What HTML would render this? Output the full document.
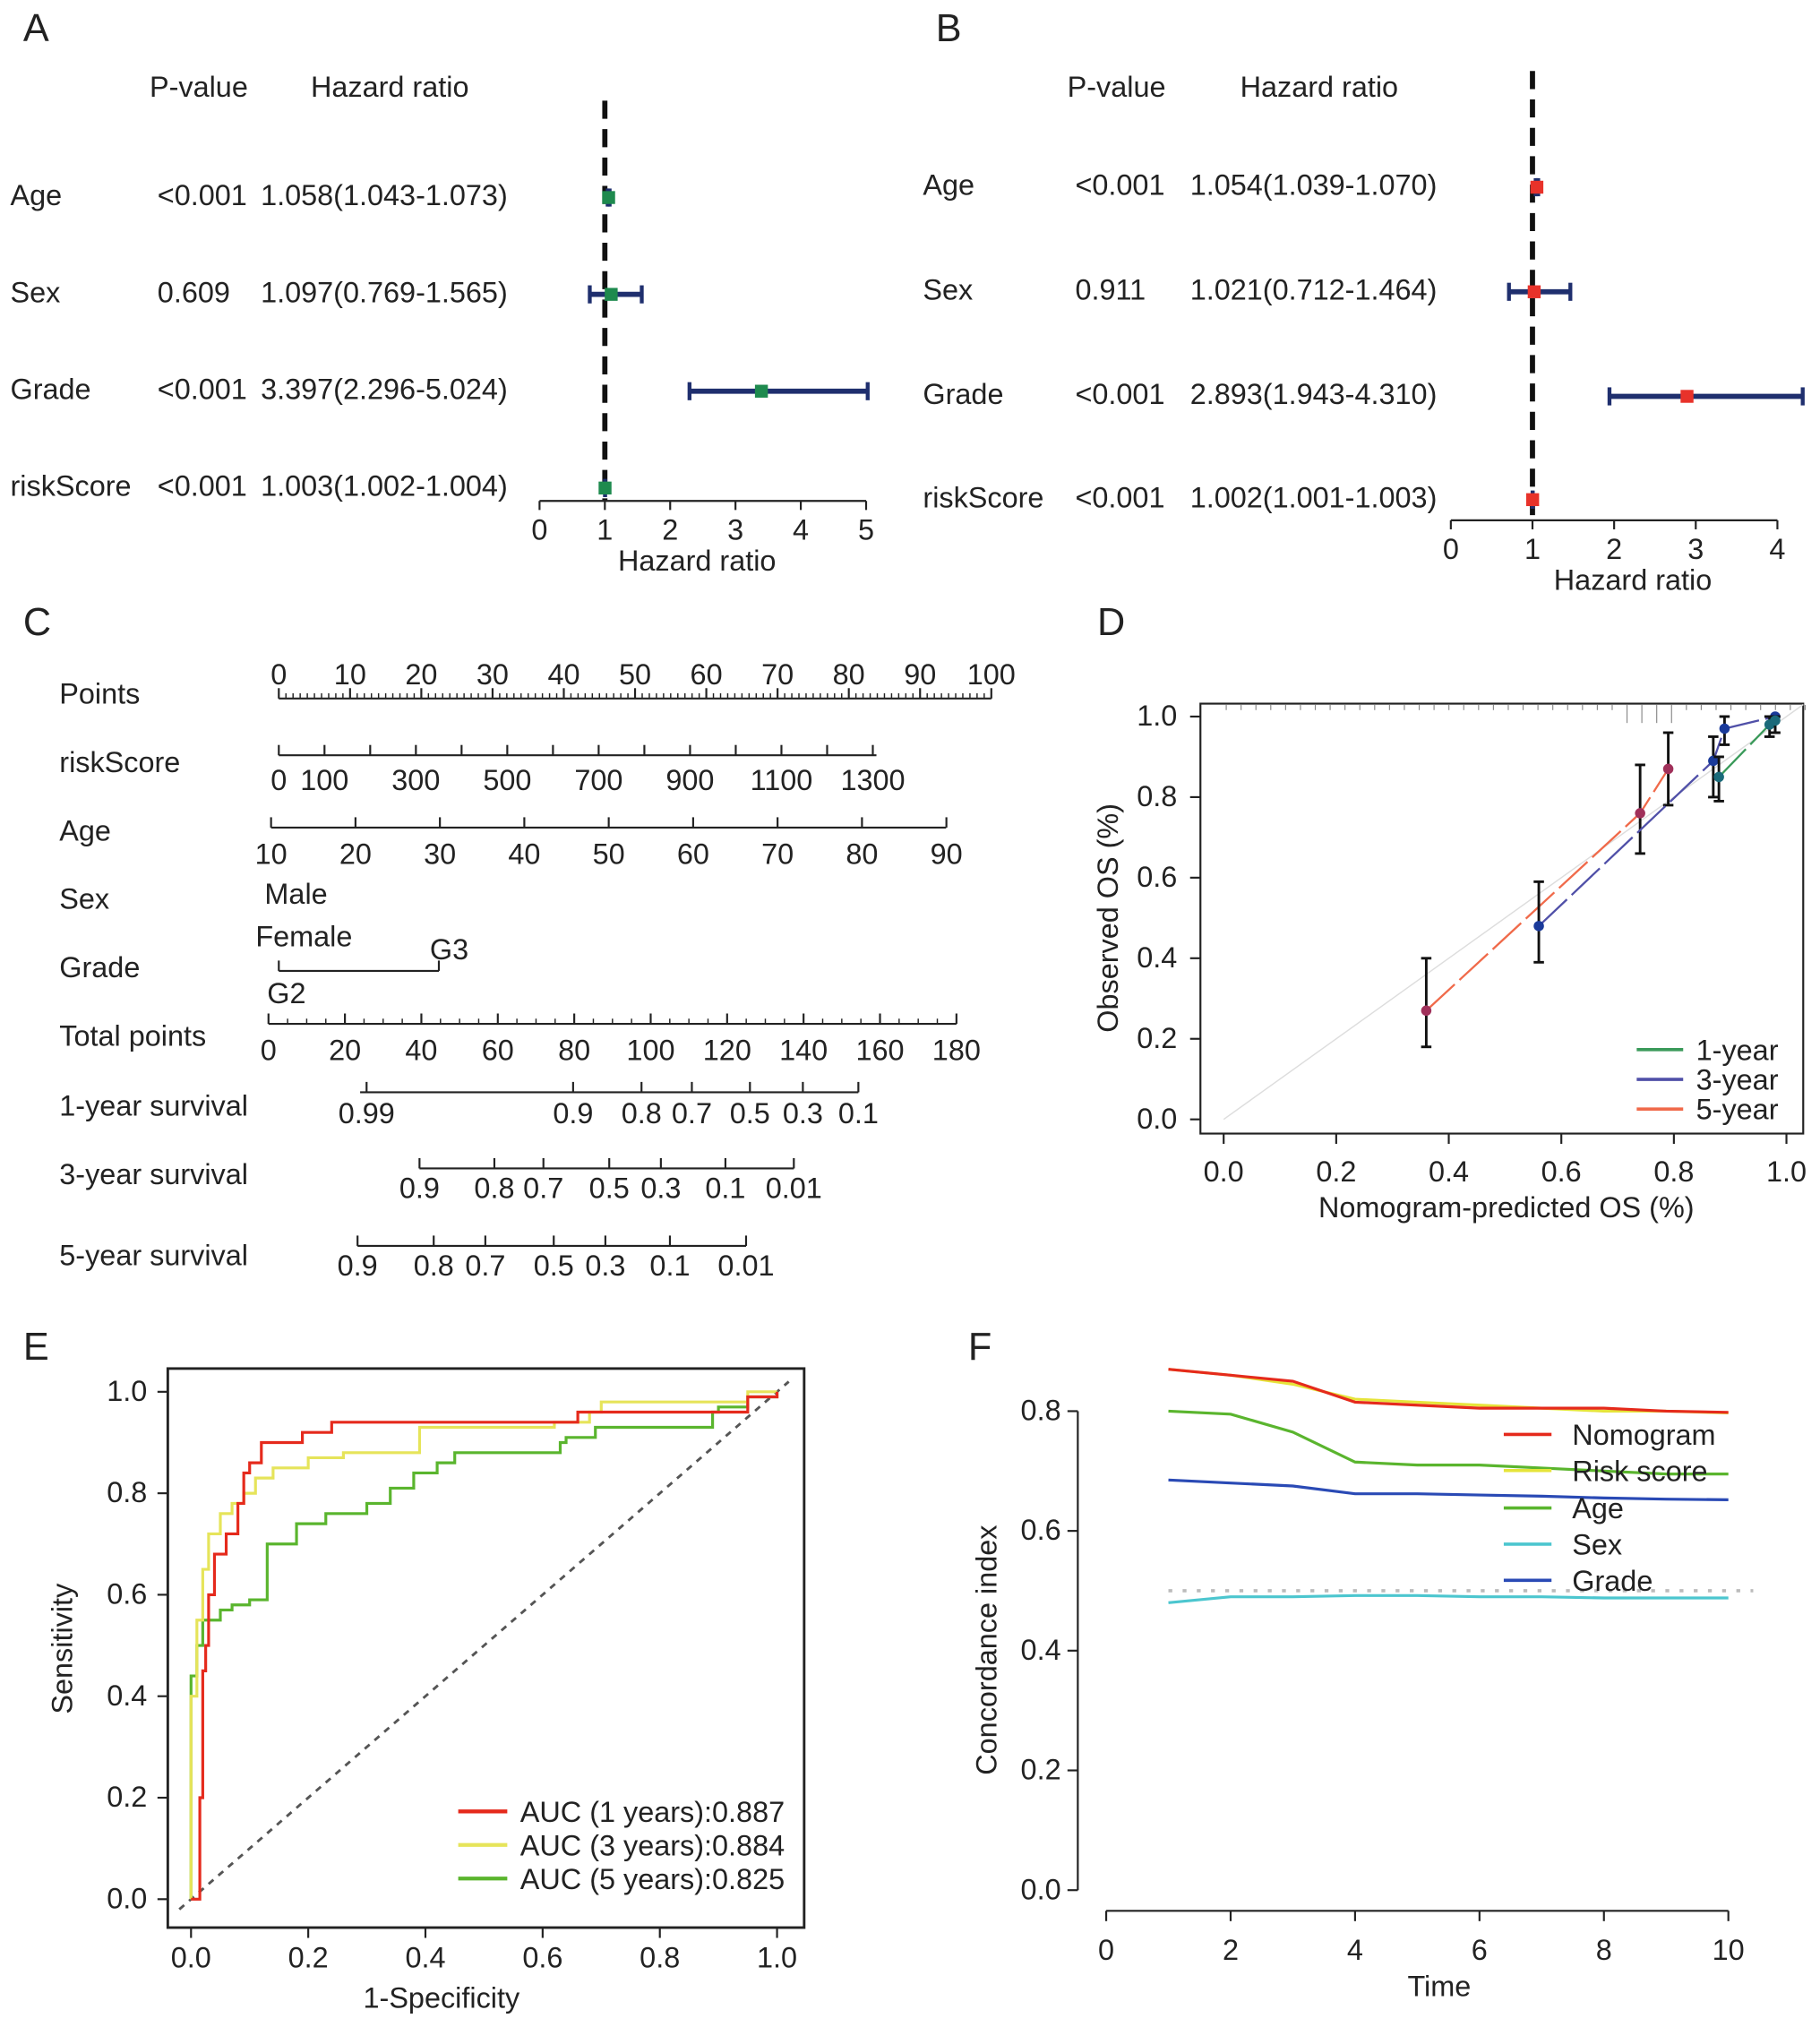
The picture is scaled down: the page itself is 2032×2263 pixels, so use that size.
<!DOCTYPE html>
<html><head><meta charset="utf-8"><style>
html,body{margin:0;padding:0;background:#fff}
svg{display:block}
text{font-family:"Liberation Sans",Arial,sans-serif;fill:#222}
</style></head><body>
<svg id="fig" width="2032" height="2263" viewBox="0 0 1410 1570" preserveAspectRatio="none" xmlns="http://www.w3.org/2000/svg">
<g id="gA"></g>
<g id="gB"></g>
<g id="gC"></g>
<g id="gD"></g>
<g id="gE"></g>
<g id="gF"></g>
</svg>
<script>
// ---- Panel A/B data
const forestVars = ["Age","Sex","Grade","riskScore"];
const pA = ["<0.001","0.609","<0.001","<0.001"];
const hrA = [1.058,1.097,3.397,1.003];
const loA = [1.043,0.769,2.296,1.002];
const hiA = [1.073,1.565,5.024,1.004];
const pB = ["<0.001","0.911","<0.001","<0.001"];
const hrB = [1.054,1.021,2.893,1.002];
const loB = [1.039,0.712,1.943,1.001];
const hiB = [1.070,1.464,4.310,1.003];
const ticksA = [0,1,2,3,4,5];
const ticksB = [0,1,2,3,4];
// ---- Panel D data
const cal1x=[0.88,0.97,0.98], cal1y=[0.85,0.98,0.99], cal1lo=[0.79,0.95,0.96], cal1hi=[0.90,1.0,1.0];
const cal3x=[0.56,0.87,0.89,0.98], cal3y=[0.48,0.89,0.97,1.0], cal3lo=[0.39,0.80,0.93,0.96], cal3hi=[0.59,0.95,1.0,1.0];
const cal5x=[0.36,0.74,0.79], cal5y=[0.27,0.76,0.87], cal5lo=[0.18,0.66,0.78], cal5hi=[0.40,0.88,0.96];
const dTicks=[0,0.2,0.4,0.6,0.8,1.0];
// ---- Panel E data
const rocRedX=[0,0.015,0.015,0.02,0.02,0.025,0.03,0.04,0.06,0.08,0.09,0.1,0.12,0.14,0.19,0.19,0.24,0.24,0.41,0.64,0.66,0.66,0.83,0.95,0.95,1,1];
const rocRedY=[0,0,0.12,0.2,0.3,0.45,0.5,0.6,0.68,0.72,0.78,0.84,0.86,0.9,0.9,0.92,0.92,0.94,0.94,0.94,0.94,0.96,0.96,0.96,0.99,0.99,1];
const rocYelX=[0,0,0.01,0.02,0.03,0.05,0.07,0.09,0.11,0.14,0.2,0.26,0.3,0.39,0.4,0.62,0.68,0.7,0.95,1];
const rocYelY=[0,0.2,0.4,0.55,0.65,0.72,0.76,0.78,0.8,0.83,0.85,0.87,0.88,0.88,0.93,0.93,0.94,0.96,0.98,1];
const rocGrnX=[0,0,0.01,0.02,0.05,0.07,0.1,0.13,0.13,0.18,0.23,0.3,0.34,0.38,0.42,0.45,0.47,0.63,0.64,0.69,0.72,0.89,0.9,0.95,1,1];
const rocGrnY=[0,0.2,0.44,0.5,0.55,0.57,0.58,0.59,0.66,0.7,0.74,0.76,0.78,0.81,0.84,0.86,0.88,0.88,0.9,0.91,0.93,0.93,0.96,0.97,0.99,1];
const eTicks=[0,0.2,0.4,0.6,0.8,1.0];
// ---- Panel F data
const fTime=[1,2,3,4,5,6,7,8,9,10];
const fNomo=[0.87,0.86,0.85,0.815,0.81,0.805,0.805,0.805,0.8,0.798];
const fRisk=[0.87,0.86,0.845,0.82,0.815,0.81,0.805,0.8,0.8,0.797];
const fAge=[0.80,0.795,0.765,0.715,0.71,0.71,0.705,0.70,0.695,0.695];
const fSex=[0.48,0.49,0.49,0.492,0.492,0.49,0.49,0.488,0.488,0.488];
const fGrade=[0.685,0.68,0.675,0.662,0.662,0.66,0.658,0.655,0.653,0.652];
const fXTicks=[0,2,4,6,8,10];
const fYTicks=[0,0.2,0.4,0.6,0.8];

const FS=22.5;
const NS="http://www.w3.org/2000/svg";
function mk(p,tag,a,txt){const e=document.createElementNS(NS,tag);for(const k in a)e.setAttribute(k,a[k]);if(txt!==undefined)e.textContent=txt;p.appendChild(e);return e;}
function T(p,x,y,s,size,anchor,name){const e=mk(p,'text',{x:x,y:y,'font-size':size||FS,'text-anchor':anchor||'start'},s);

return e;}
function L(p,x1,y1,x2,y2,c,w,extra){const e=mk(p,'line',Object.assign({x1:x1,y1:y1,x2:x2,y2:y2,stroke:c||'#222','stroke-width':w||1.5},extra||{}));

return e;}
function poly(p,pts,c,w,extra){const e=mk(p,'polyline',Object.assign({points:pts.map(q=>q.join(',')).join(' '),fill:'none',stroke:c,'stroke-width':w},extra||{}));return e;}

// ---- Forest
function forest(g,letter,lx,px,hx,x0,ux,rows,axY,dashTop,ticks,p,hr,lo,hi,col,titleY,axLabelX){
  T(g,lx+10,32,letter,30,'start','panel-letter');
  T(g,px+32,titleY,'P-value',FS,'middle','p-value-header');
  T(g,hx+100,titleY,'Hazard ratio',FS,'middle','hr-header');
  const X=v=>x0+v*ux;
  L(g,X(1),dashTop,X(1),axY,'#111',4,{'stroke-dasharray':'14,8'});
  forestVars.forEach((v,i)=>{const y=rows[i];
    T(g,lx,y+8,v,FS,'start','variable-label');
    T(g,px,y+8,p[i],FS,'start','p-value');
    T(g,hx,y+8,hr[i].toFixed(3)+'('+lo[i].toFixed(3)+'-'+hi[i].toFixed(3)+')',FS,'start','hr-text');
    const xl=X(lo[i]),xh=Math.min(X(hi[i]),1398),yy=y+2;
    L(g,xl,yy,xh,yy,'#1f2f6e',4);L(g,xl,yy-7,xl,yy+7,'#1f2f6e',3);L(g,xh,yy-7,xh,yy+7,'#1f2f6e',3);
    const r=mk(g,'rect',{x:X(hr[i])-5,y:yy-5,width:10,height:10,fill:col});
    
    
  });
  L(g,X(ticks[0]),axY,X(ticks[ticks.length-1]),axY,'#222',1.5);
  ticks.forEach(t=>{L(g,X(t),axY,X(t),axY+7);T(g,X(t),axY+30,String(t),FS,'middle','tick-label');});
  T(g,axLabelX,axY+54,'Hazard ratio',FS,'middle','x-axis-title');
}
forest(document.getElementById('gA'),'A',8,122,202,418,50.6,[151,226,301,376],388,78,ticksA,pA,hrA,loA,hiA,'#1e8a4e',75,540);
forest(document.getElementById('gB'),'B',715,833,922,1124,63.25,[143,224,305,385],403,55,ticksB,pB,hrB,loB,hiB,'#e8322a',75,1265);

// ---- Nomogram
(function(){const g=document.getElementById('gC');
T(g,18,492,'C',30,'start','panel-letter');
const rowL=[['Points',545],['riskScore',598],['Age',651],['Sex',704],['Grade',757],['Total points',810],['1-year survival',864],['3-year survival',917],['5-year survival',980]];
rowL.forEach(r=>T(g,46,r[1],r[0],FS,'start','row-label'));
function scale(y,x1,x2,labels,pos,ly,minor){L(g,x1,y,x2,y);
  pos.forEach((x,i)=>{L(g,x,y,x,y-8);if(labels[i]!=='')T(g,x,ly,labels[i],FS,'middle','scale-label');});
  if(minor)for(let x=x1;x<=x2+0.1;x+=minor)L(g,x,y,x,y-4,'#222',1);}
const pts=[0,10,20,30,40,50,60,70,80,90,100];
scale(541,216,768,pts.map(String),pts.map(v=>216+v*5.52),530,5.52);
const rs=[0,100,200,300,400,500,600,700,800,900,1000,1100,1200,1300];
scale(585,216,679,rs.map(v=>(v===0||v%200===100)?String(v):''),rs.map(v=>216+v*0.354),612);
const ag=[10,20,30,40,50,60,70,80,90];
scale(641,210,733,ag.map(String),ag.map(v=>210+(v-10)*6.54),669);
T(g,205,700,'Male',FS,'start','sex-male');T(g,198,733,'Female',FS,'start','sex-female');
L(g,216,752,340,752);L(g,216,752,216,744);L(g,340,752,340,744);
T(g,333,743,'G3',FS,'start','grade-g3');T(g,207,777,'G2',FS,'start','grade-g2');
const tp=[0,20,40,60,80,100,120,140,160,180];
scale(793,208,741,tp.map(String),tp.map(v=>208+v*2.961),821,2.961*5);
scale(846,279,665,['0.99','0.9','0.8','0.7','0.5','0.3','0.1'],[284,444,497,536,581,622,665],870);
scale(905,325,615,['0.9','0.8','0.7','0.5','0.3','0.1','0.01'],[325,383,421,472,512,562,615],928);
scale(965,277,578,['0.9','0.8','0.7','0.5','0.3','0.1','0.01'],[277,336,376,429,469,519,578],988);
})();

// ---- Calibration
(function(){const g=document.getElementById('gD');
T(g,850,492,'D',30,'start','panel-letter');
const X=v=>948+v*436,Y=v=>867-v*312;
const fr=mk(g,'rect',{x:930,y:545,width:467,height:333,fill:'none',stroke:'#222','stroke-width':1.5});


L(g,X(0),Y(0),X(1.03),Y(1.03),'#ddd',1);
dTicks.forEach(t=>{L(g,X(t),878,X(t),886);T(g,X(t),915,t.toFixed(1),FS,'middle','x-tick');
 L(g,922,Y(t),930,Y(t));T(g,912,Y(t)+7,t.toFixed(1),FS,'end','y-tick');});
T(g,1167,943,'Nomogram-predicted OS (%)',FS,'middle','x-axis-title');
const yt=T(g,866,711,'Observed OS (%)',FS,'middle','y-axis-title');yt.setAttribute('transform','rotate(-90 866 711)');
for(let i=0;i<40;i++){const x=950+i*11.5;L(g,x,546,x,546+(x>1260&&x<1300?14:4),'#888',0.8);}
function ser(xs,ys,lo,hi,c,pc,name){
 poly(g,xs.map((x,i)=>[X(x),Y(ys[i])]),c,1.6,{'stroke-dasharray':'30,5',});
 xs.forEach((x,i)=>{L(g,X(x),Y(lo[i]),X(x),Y(hi[i]),'#111',2);L(g,X(x)-4,Y(lo[i]),X(x)+4,Y(lo[i]),'#111',2);L(g,X(x)-4,Y(hi[i]),X(x)+4,Y(hi[i]),'#111',2);
  const c2=mk(g,'circle',{cx:X(x),cy:Y(ys[i]),r:4,fill:pc});
  
  });}
ser(cal5x,cal5y,cal5lo,cal5hi,'#f06a4a','#a0305a','cal-5-year');
ser(cal3x,cal3y,cal3lo,cal3hi,'#5050a8','#1a3a9a','cal-3-year');
ser(cal1x,cal1y,cal1lo,cal1hi,'#3a9a5a','#1a6a7a','cal-1-year');
[['1-year','#3a9a5a',813],['3-year','#5050a8',836],['5-year','#f06a4a',859]].forEach(l=>{L(g,1268,l[2],1304,l[2],l[1],2.5);T(g,1314,l[2]+8,l[0],FS,'start','legend-entry');});
})();

// ---- ROC
(function(){const g=document.getElementById('gE');
T(g,18,1053,'E',30,'start','panel-letter');
const X=v=>148+v*454,Y=v=>1471-v*393;
const fr=mk(g,'rect',{x:130,y:1060,width:493,height:433,fill:'none',stroke:'#222','stroke-width':2});


eTicks.forEach(t=>{L(g,X(t),1493,X(t),1501);T(g,X(t),1524,t.toFixed(1),FS,'middle','x-tick');
 L(g,122,Y(t),130,Y(t));T(g,114,Y(t)+7,t.toFixed(1),FS,'end','y-tick');});
T(g,342,1555,'1-Specificity',FS,'middle','x-axis-title');
const yt=T(g,56,1277,'Sensitivity',FS,'middle','y-axis-title');yt.setAttribute('transform','rotate(-90 56 1277)');
L(g,X(-0.02),Y(-0.02),X(1.02),Y(1.02),'#555',2,{'stroke-dasharray':'5,5'});
function stp(xs,ys){const p=[];xs.forEach((x,i)=>{if(i>0)p.push([X(xs[i-1]),Y(ys[i])]);p.push([X(x),Y(ys[i])]);});return p;}
poly(g,stp(rocGrnX,rocGrnY),'#5ab52e',2.2,{});
poly(g,stp(rocYelX,rocYelY),'#e6e45a',2.2,{});
poly(g,stp(rocRedX,rocRedY),'#e52a1c',2.2,{});
[['AUC (1 years):0.887','#e52a1c',1403],['AUC (3 years):0.884','#e6e45a',1429],['AUC (5 years):0.825','#5ab52e',1455]].forEach(l=>{L(g,355,l[2],393,l[2],l[1],3);T(g,403,l[2]+8,l[0],FS,'start','legend-entry');});
})();

// ---- C-index
(function(){const g=document.getElementById('gF');
T(g,750,1053,'F',30,'start','panel-letter');
const X=v=>857+v*48.2,Y=v=>1464-v*463.75;
L(g,835,Y(0),835,Y(0.8));
fYTicks.forEach(t=>{L(g,827,Y(t),835,Y(t));T(g,822,Y(t)+7,t.toFixed(1),FS,'end','y-tick');});
L(g,X(0),1480,X(10),1480);
fXTicks.forEach(t=>{L(g,X(t),1480,X(t),1488);T(g,X(t),1518,String(t),FS,'middle','x-tick');});
T(g,1115,1546,'Time',FS,'middle','x-axis-title');
const yt=T(g,772,1278,'Concordance index',FS,'middle','y-axis-title');yt.setAttribute('transform','rotate(-90 772 1278)');
L(g,X(1),Y(0.5),X(10.4),Y(0.5),'#bbb',2.5,{'stroke-dasharray':'3,8'});
const ser=[[fGrade,'#2a4ab5','Grade'],[fSex,'#4cc6cf','Sex'],[fAge,'#5ab52e','Age'],[fRisk,'#e6e43a','Risk score'],[fNomo,'#e52a1c','Nomogram']];
ser.forEach(s=>poly(g,fTime.map((t,i)=>[X(t),Y(s[0][i])]),s[1],2.2,{}));
const leg=[['Nomogram','#e52a1c',1111],['Risk score','#e6e43a',1139],['Age','#5ab52e',1168],['Sex','#4cc6cf',1196],['Grade','#2a4ab5',1224]];
leg.forEach(l=>{L(g,1165,l[2],1202,l[2],l[1],2.5);T(g,1218,l[2]+8,l[0],FS,'start','legend-entry');});
})();
</script>
</body></html>
